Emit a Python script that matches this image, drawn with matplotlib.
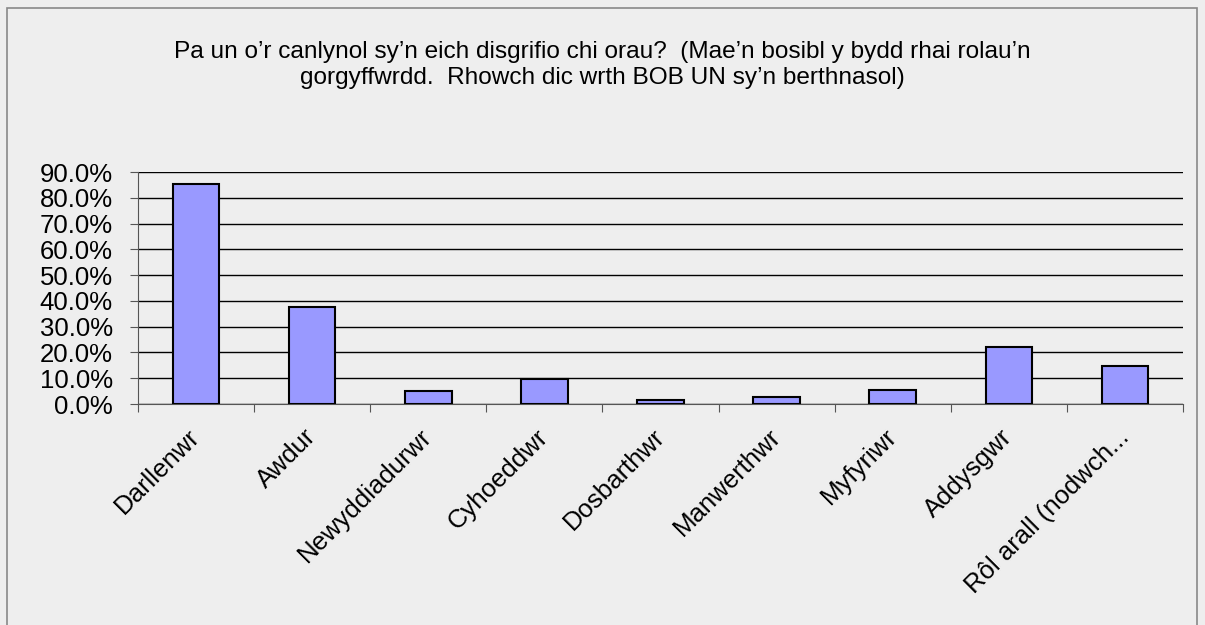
import matplotlib
matplotlib.use("Agg")
import matplotlib.pyplot as plt
from matplotlib.patches import Rectangle
from matplotlib.ticker import FuncFormatter, MultipleLocator

# data
categories = ["Darllenwr", "Awdur", "Newyddiadurwr", "Cyhoeddwr", "Dosbarthwr",
              "Manwerthwr", "Myfyriwr", "Addysgwr", "Rôl arall (nodwch..."]
percent = [85.3, 37.6, 5.2, 9.7, 1.7, 2.7, 5.4, 22.2, 14.7]

title = ("Pa un o\u2019r canlynol sy\u2019n eich disgrifio chi orau?  (Mae\u2019n bosibl y bydd rhai rolau\u2019n\n"
         "gorgyffwrdd.  Rhowch dic wrth BOB UN sy\u2019n berthnasol)")

plt.rcParams['font.family'] = ['Liberation Sans', 'DejaVu Sans']
bg = "#eeeeee"

fig = plt.figure(figsize=(12.05, 6.25), dpi=100, facecolor=bg)
# outer chart frame
fig.patches.append(Rectangle((7 / 1205, -0.02), 1190 / 1205, 1 - 8 / 625 + 0.02,
                             transform=fig.transFigure, fill=False,
                             edgecolor="#888888", linewidth=1.2))

ax = fig.add_axes([138 / 1205, 1 - 404 / 625, (1183 - 138) / 1205, (404 - 172) / 625])
ax.set_facecolor(bg)

x = range(len(categories))
ax.bar(x, percent, width=0.4, color="#9999ff", edgecolor="black", linewidth=1.5, zorder=3)

ax.set_ylim(0, 90)
ax.set_xlim(-0.5, len(categories) - 0.5)
ax.yaxis.set_major_locator(MultipleLocator(10))
ax.yaxis.set_major_formatter(FuncFormatter(lambda v, p: f"{v:.1f}%"))
ax.grid(axis="y", color="black", linewidth=1, zorder=0)

for s in ["top", "right"]:
    ax.spines[s].set_visible(False)
ax.spines["left"].set_color("#555555")
ax.spines["bottom"].set_color("#555555")

# ticks sit between the categories, labels on the category centres
ax.set_xticks([i + 0.5 for i in range(-1, len(categories))], minor=False)
ax.set_xticklabels([])
ax.set_xticks(list(x), minor=True)
ax.set_xticklabels(categories, minor=True, rotation=45, ha="right", va="center",
                   rotation_mode="anchor", fontsize=18.5)
ax.tick_params(axis="x", which="minor", length=0, pad=21)
ax.tick_params(axis="x", which="major", length=6, direction="out", color="#555555")
ax.tick_params(axis="y", length=6, direction="out", color="#555555", labelsize=18.5, pad=12)

fig.text(0.5, 1 - 65 / 625, title, ha="center", va="center", fontsize=17.6,
         linespacing=1.25)

fig.savefig("out.png", dpi=100, facecolor=bg)
